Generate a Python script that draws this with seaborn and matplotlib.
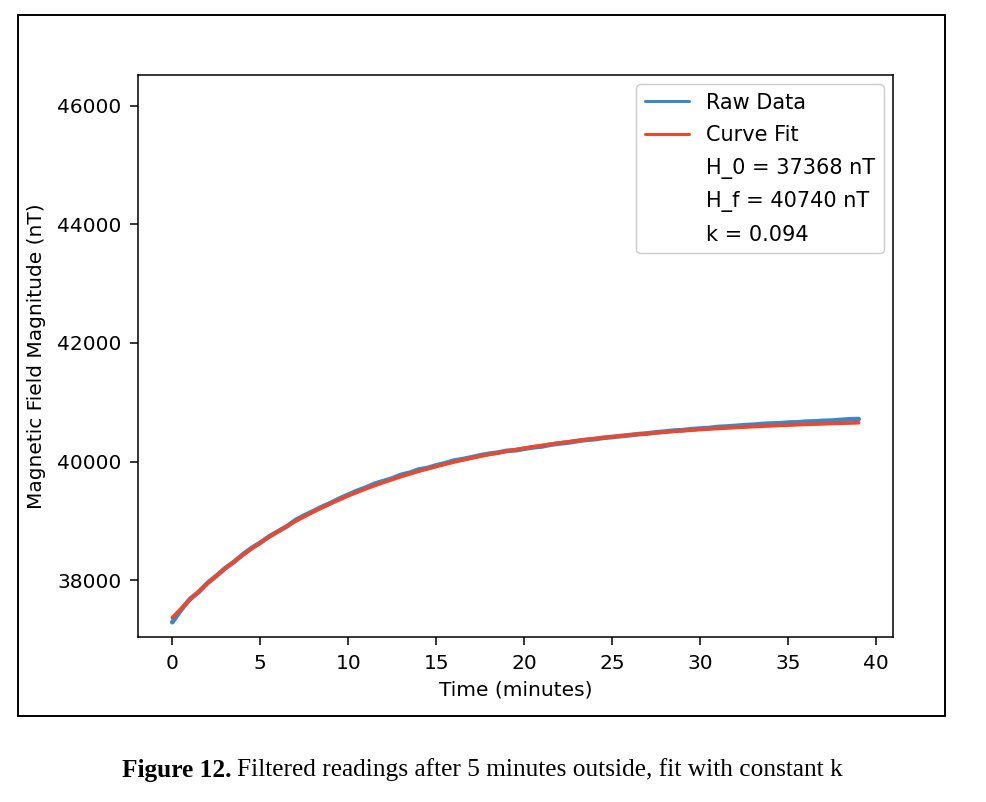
import numpy as np
import pandas as pd
import matplotlib
matplotlib.use('Agg')
from matplotlib import pyplot as plt
from matplotlib.patches import Rectangle
import seaborn as sns

sns.set_style('ticks', {'axes.edgecolor': 'black', 'text.color': 'black', 'axes.labelcolor': 'black',
                        'xtick.color': 'black', 'ytick.color': 'black'})
plt.rcParams['font.family'] = ['DejaVu Sans']

# raw magnetometer readings, read every half minute
raw_t = [i * 0.5 for i in range(79)]
raw_h = [37290, 37500, 37680, 37800, 37950, 38070, 38200, 38305, 38430, 38540,
         38630, 38735, 38820, 38905, 39010, 39090, 39160, 39235, 39300, 39375,
         39440, 39505, 39560, 39625, 39670, 39715, 39775, 39810, 39865, 39890,
         39935, 39970, 40015, 40040, 40070, 40105, 40130, 40150, 40180, 40190,
         40215, 40240, 40255, 40285, 40305, 40320, 40345, 40365, 40378, 40400,
         40413, 40430, 40445, 40462, 40473, 40492, 40505, 40522, 40528, 40545,
         40556, 40565, 40582, 40590, 40600, 40612, 40620, 40632, 40640, 40645,
         40656, 40660, 40672, 40676, 40686, 40690, 40702, 40712, 40716]

# fitted curve, read every minute
fit_t = list(range(40))
fit_h = [37368, 37670, 37946, 38196, 38425, 38632, 38821, 38994, 39150, 39293,
         39423, 39541, 39648, 39746, 39836, 39917, 39991, 40058, 40119, 40175,
         40225, 40272, 40314, 40352, 40387, 40418, 40447, 40473, 40497, 40519,
         40539, 40557, 40573, 40588, 40602, 40614, 40626, 40636, 40645, 40654]

fit_params = ['H_0 = 37368 nT', 'H_f = 40740 nT', 'k = 0.094']
x_ticks = [0, 5, 10, 15, 20, 25, 30, 35, 40]
y_ticks = [38000, 40000, 42000, 44000, 46000]

raw = pd.DataFrame({'t': raw_t, 'H': raw_h})
fit = pd.DataFrame({'t': fit_t, 'H': fit_h})

W, H = 987, 802
fig = plt.figure(figsize=(W / 100, H / 100), dpi=100)
fig.patches.append(Rectangle((18 / W, 1 - 716 / H), (945 - 18) / W, (716 - 15) / H,
                             transform=fig.transFigure, fill=False, lw=1.4, ec='black'))
ax = fig.add_axes([138 / W, 1 - 637 / H, (893 - 138) / W, (637 - 75) / H])

sns.lineplot(x='t', y='H', data=raw, ax=ax, color='#3f86c4', lw=3.4, label='Raw Data')
sns.lineplot(x='t', y='H', data=fit, ax=ax, color='#ef472c', lw=2.6, label='Curve Fit')
for p in fit_params:
    ax.plot([], [], ' ', label=p)

ax.set_xlim(-1.95, 40.95)
ax.set_ylim(37040, 46520)
ax.set_xticks(x_ticks)
ax.set_yticks(y_ticks)
ax.tick_params(labelsize=14.5, length=6, width=1.1, pad=6)
for s in ax.spines.values():
    s.set_linewidth(1.1)
ax.set_xlabel('Time (minutes)', fontsize=14.5, labelpad=6)
ax.set_ylabel('Magnetic Field Magnitude (nT)', fontsize=14.5, labelpad=8)
leg = ax.legend(loc='upper right', fontsize=15, framealpha=1, handlelength=2.15,
                labelspacing=0.6, borderaxespad=0.45)
for ln in leg.get_lines():
    ln.set_linewidth(2.2)

fig.canvas.draw()
r = fig.canvas.get_renderer()
t1 = fig.text(122 / W, 1 - 770 / H, 'Figure 12.', family='Liberation Serif', weight='bold',
              fontsize=18.3, va='center', ha='left')
bb = t1.get_window_extent(renderer=r)
fig.text((bb.x1 + 6) / W, 1 - 770 / H, 'Filtered readings after 5 minutes outside, fit with constant k',
         family='Liberation Serif', fontsize=18.3, va='center', ha='left')

plt.savefig('out.png', dpi=100)
print('finished')
